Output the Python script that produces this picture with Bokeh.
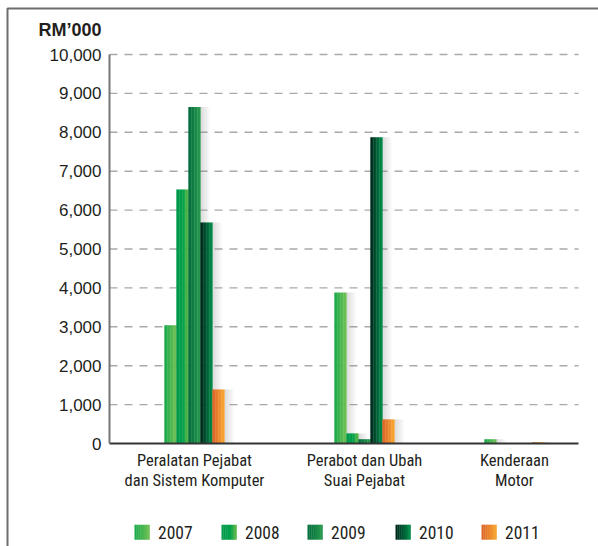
from bokeh.plotting import figure
from bokeh.models import FixedTicker, NumeralTickFormatter, Range1d, ColumnDataSource
from bokeh.core.properties import value
from bokeh.embed import file_html
from bokeh.resources import INLINE

# ---- data (RM'000) ----
categories = ["Peralatan Pejabat\ndan Sistem Komputer",
              "Perabot dan Ubah\nSuai Pejabat",
              "Kenderaan\nMotor"]
years = ["2007", "2008", "2009", "2010", "2011"]
v2007 = [3040, 3880, 110]
v2008 = [6530, 260, 0]
v2009 = [8650, 110, 0]
v2010 = [5680, 7870, 0]
v2011 = [1390, 620, 30]
series = [v2007, v2008, v2009, v2010, v2011]
y_ticks = [0, 1000, 2000, 3000, 4000, 5000, 6000, 7000, 8000, 9000, 10000]
unit_label = "RM\u2019000"

# ---- page geometry (canvas pixels) ----
W, H = 598, 546
X0, Y0 = 109, 443            # where the value axis and the zero line sit
PLOT_W = 469                 # length of the category axis
PX_PER_UNIT = 389 / 10000    # vertical pixels per RM'000


def dx(cx):
    return cx - X0


def dy(cy):
    return (Y0 - cy) / PX_PER_UNIT


# ---- styling ----
FONT = "Liberation Sans"
NARROW = "'Roboto Condensed', 'DejaVu Sans Condensed', 'Liberation Sans'"
TEXT = "#231f20"
GRAD = {
    "2007": [(0.0, "#15a94a"), (1.0, "#74c156")],
    "2008": [(0.0, "#00984a"), (0.55, "#00a04b"), (1.0, "#66ba47")],
    "2009": [(0.0, "#006b3a"), (1.0, "#2a9c50")],
    "2010": [(0.0, "#00221a"), (1.0, "#00914b")],
    "2011": [(0.0, "#dc6127"), (1.0, "#f7a933")],
}
GROUP_X = [85, 255, 405]   # group centres along the category axis
BAR_W = 12
N_STRIPS = 8
SHADOW_W = 10


def hex2rgb(h):
    h = h.lstrip("#")
    return tuple(int(h[i:i + 2], 16) for i in (0, 2, 4))


def grad_color(stops, t):
    for (t0, c0), (t1, c1) in zip(stops[:-1], stops[1:]):
        if t <= t1:
            f = 0 if t1 == t0 else (t - t0) / (t1 - t0)
            a, b = hex2rgb(c0), hex2rgb(c1)
            return "#%02x%02x%02x" % tuple(round(a[i] + (b[i] - a[i]) * f) for i in range(3))
    return stops[-1][1]


# bars are split into thin vertical strips to give a left-to-right gradient,
# with a soft grey shadow falling to the right of each bar
bx, btop, bcol, bw = [], [], [], []
sx, stop_, salpha = [], [], []
sw = BAR_W / N_STRIPS
for k, (yr, vals) in enumerate(zip(years, series)):
    offset = (k - 2) * BAR_W
    for g, v in zip(GROUP_X, vals):
        left = g + offset - BAR_W / 2
        for s in range(N_STRIPS):
            t = (s + 0.5) / N_STRIPS
            bx.append(left + (s + 0.5) * sw)
            btop.append(v)
            bcol.append(grad_color(GRAD[yr], t))
            bw.append(sw + 0.35)
        if v > 0:
            for s in range(SHADOW_W):
                sx.append(left + BAR_W + s + 0.5)
                stop_.append(v)
                salpha.append(0.32 * (1 - s / SHADOW_W) ** 1.2)

bars = ColumnDataSource(dict(x=bx, top=btop, color=bcol, w=bw))
shadow = ColumnDataSource(dict(x=sx, top=stop_, alpha=salpha))

p = figure(width=W, height=H, output_backend="svg", toolbar_location=None,
           x_range=Range1d(dx(0), dx(W)), y_range=Range1d(dy(H), dy(0)),
           min_border=0, min_border_left=0, min_border_right=0,
           min_border_top=0, min_border_bottom=0)
p.outline_line_color = None
p.background_fill_color = "white"
p.border_fill_color = "white"
p.xgrid.visible = False
p.ygrid.visible = False

# dashed value grid
grid_y = [t for t in y_ticks if t > 0]
p.segment(x0=[0] * len(grid_y), x1=[PLOT_W] * len(grid_y), y0=grid_y, y1=grid_y,
          line_color="#a9a9a9", line_width=1.4, line_dash="8 7", level="underlay")

p.vbar(x="x", top="top", bottom=0, width=1.05, source=shadow,
       fill_color="#8a8a8a", fill_alpha="alpha", line_color=None)
p.vbar(x="x", top="top", bottom=0, width="w", source=bars,
       fill_color="color", line_color=None)

# axes sit at the data origin
p.yaxis.fixed_location = 0
p.yaxis.bounds = (0, 10000)
p.yaxis.ticker = FixedTicker(ticks=y_ticks)
p.yaxis.formatter = NumeralTickFormatter(format="0,0")
p.yaxis.major_tick_out = 0
p.yaxis.major_tick_in = 0
p.yaxis.minor_tick_out = 0
p.yaxis.minor_tick_in = 0
p.yaxis.major_label_standoff = 8
p.yaxis.axis_line_color = "#767676"
p.yaxis.axis_line_width = 2
p.yaxis.major_label_text_font = FONT
p.yaxis.major_label_text_font_size = "17px"
p.yaxis.major_label_text_color = TEXT

p.xaxis.fixed_location = 0
p.xaxis.bounds = (0, PLOT_W)
p.xaxis.ticker = FixedTicker(ticks=GROUP_X)
p.xaxis.major_label_overrides = {g: c for g, c in zip(GROUP_X, categories)}
p.xaxis.major_tick_out = 0
p.xaxis.major_tick_in = 0
p.xaxis.minor_tick_out = 0
p.xaxis.minor_tick_in = 0
p.xaxis.major_label_standoff = 7
p.xaxis.axis_line_color = "#333333"
p.xaxis.axis_line_width = 2
p.xaxis.major_label_text_font = NARROW
p.xaxis.major_label_text_font_size = "16.5px"
p.xaxis.major_label_text_color = TEXT
p.xaxis.major_label_text_line_height = 1.1

# unit caption above the value axis
p.text(x=[dx(101)], y=[dy(29.5)], text=[unit_label], text_align="right",
       text_baseline="middle", text_font=value(FONT), text_font_style="bold",
       text_font_size="18px", text_color=TEXT)

# panel frame: top and left edges
p.line(x=[dx(7), dx(7), dx(W + 5)], y=[dy(H + 5), dy(8), dy(8)],
       line_color="#6d6d6d", line_width=2)

# legend row
LEG_X = [134, 221, 307, 395, 481]
LEG_CY = 531.7
SW = 15
ql, qr, qc = [], [], []
for yr, lx in zip(years, LEG_X):
    for s in range(N_STRIPS):
        t = (s + 0.5) / N_STRIPS
        ql.append(dx(lx + s * SW / N_STRIPS))
        qr.append(dx(lx + (s + 1) * SW / N_STRIPS + 0.3))
        qc.append(grad_color(GRAD[yr], t))
p.quad(left=ql, right=qr, bottom=dy(LEG_CY + SW / 2), top=dy(LEG_CY - SW / 2),
       fill_color=qc, line_color=None)
p.text(x=[dx(lx + 23.5) for lx in LEG_X], y=[dy(LEG_CY)] * 5, text=years,
       text_baseline="middle", text_align="left", text_font=value(NARROW),
       text_font_size="17.5px", text_color=TEXT)

open("out.html", "w").write(file_html(p, INLINE))
